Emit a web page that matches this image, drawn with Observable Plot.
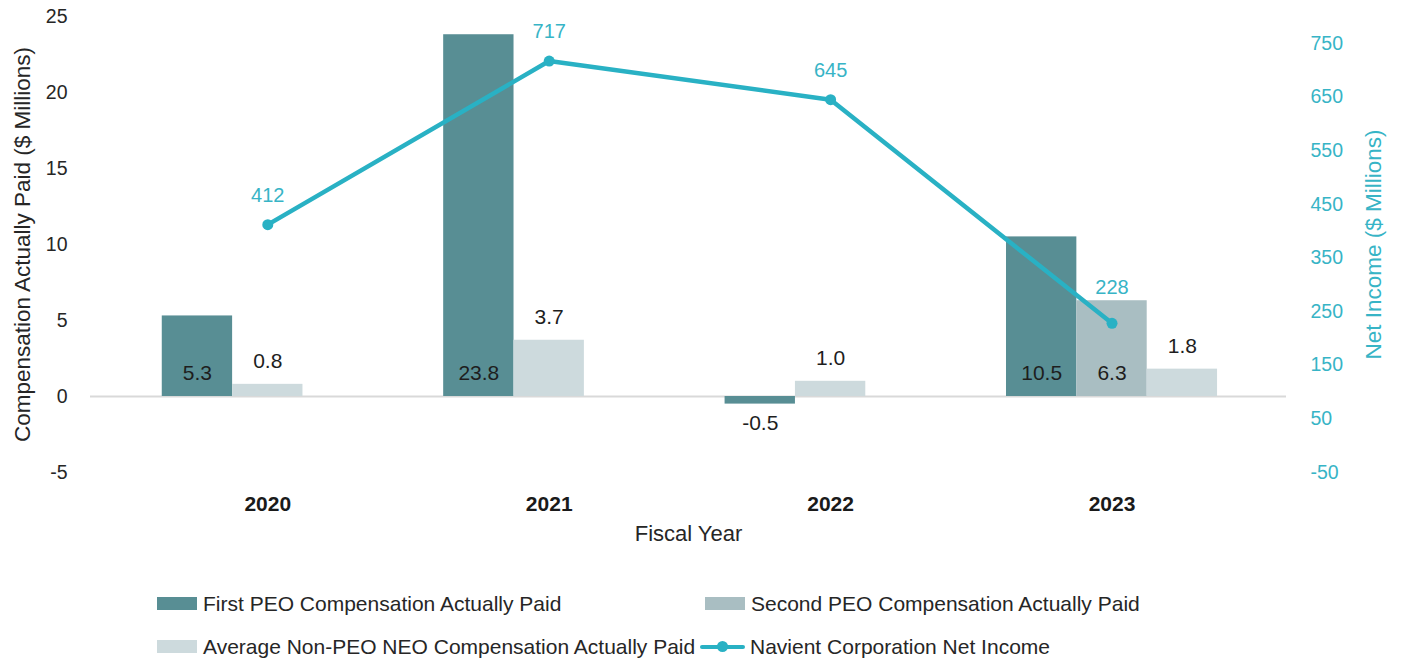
<!DOCTYPE html>
<html>
<head>
<meta charset="utf-8">
<script src="https://cdn.jsdelivr.net/npm/d3@7"></script>
<script src="https://cdn.jsdelivr.net/npm/@observablehq/plot@0.6"></script>
<style>
  html, body { margin: 0; padding: 0; background: #fff; }
  body { width: 1402px; height: 662px; overflow: hidden; font-family: "Liberation Sans", Arial, sans-serif; color: #262626; }
  #chart svg { display: block; }
  .legend { margin-top: 2px; padding-left: 157px; }
  .row { display: flex; height: 43px; align-items: center; }
  .item { display: flex; align-items: center; font-size: 21px; color: #262626; }
  .item.c1 { width: 548px; }
  .sw { width: 40px; height: 13px; margin-right: 6px; }
  .ln { position: relative; width: 45px; height: 13px; margin-left: -5px; margin-right: 5px; }
  .ln::before { content: ""; position: absolute; left: 0; right: 0; top: 5px; height: 4px; background: #29b1c4; border-radius: 2px; }
  .ln::after { content: ""; position: absolute; left: 17px; top: 1px; width: 11px; height: 11px; border-radius: 50%; background: #29b1c4; }
</style>
</head>
<body>
<div id="chart"></div>
<div class="legend" id="legend"></div>
<script>
// ---- data ----
const years = ["2020", "2021", "2022", "2023"];
const firstPEO = [5.3, 23.8, -0.5, 10.5];
const secondPEO = [null, null, null, 6.3];
const avgNEO = [0.8, 3.7, 1.0, 1.8];
const netIncome = [412, 717, 645, 228];
const leftTicks = [-5, 0, 5, 10, 15, 20, 25];
const rightTicks = [-50, 50, 150, 250, 350, 450, 550, 650, 750];
const seriesNames = [
  "First PEO Compensation Actually Paid",
  "Second PEO Compensation Actually Paid",
  "Average Non-PEO NEO Compensation Actually Paid",
  "Navient Corporation Net Income"
];
const colors = ["#588e94", "#a9bec2", "#cddadd", "#29b1c4"];

// ---- derived table ----
const leftDomain = [-5, 25];
const rightDomain = [-50, 800];
const toLeft = v => (v - rightDomain[0]) / (rightDomain[1] - rightDomain[0]) * (leftDomain[1] - leftDomain[0]) + leftDomain[0];
const fromLeft = t => Math.round((t - leftDomain[0]) / (leftDomain[1] - leftDomain[0]) * (rightDomain[1] - rightDomain[0]) + rightDomain[0]);

const slotW = 0.25;
const bars = [];
years.forEach((yr, i) => {
  const present = [];
  [[firstPEO, 0], [secondPEO, 1], [avgNEO, 2]].forEach(([arr, s]) => {
    if (arr[i] != null) present.push({ s, v: arr[i] });
  });
  present.forEach((p, k) => {
    const c = i + (k - 1) * slotW;
    bars.push({ i, year: yr, series: p.s, value: p.v, cx: c, x1: c - slotW / 2, x2: c + slotW / 2 });
  });
});
const line = years.map((yr, i) => ({ i, year: yr, v: netIncome[i], t: toLeft(netIncome[i]) }));

const fmt = v => v.toFixed(1);
const font = "'Liberation Sans', Arial, sans-serif";

const plot = Plot.plot({
  width: 1402,
  height: 580,
  marginLeft: 90,
  marginRight: 116,
  marginTop: 16,
  marginBottom: 108,
  x: { domain: [-0.63, 3.62] },
  y: { domain: leftDomain },
  style: { fontFamily: font, background: "#fff", overflow: "visible" },
  marks: [
    Plot.ruleY([0], { stroke: "#d9d9d9", strokeWidth: 2 }),
    Plot.rectY(bars, { x1: "x1", x2: "x2", y: "value", fill: d => colors[d.series] }),
    // labels for PEO bars (inside, at base)
    Plot.text(bars.filter(d => d.series < 2 && d.value >= 0), { x: "cx", y: 0, text: d => fmt(d.value), dy: -23, fontSize: 21, fill: "#1e1e1e" }),
    Plot.text(bars.filter(d => d.series < 2 && d.value < 0), { x: "cx", y: "value", text: d => fmt(d.value), dy: 19, fontSize: 21, fill: "#1e1e1e" }),
    // labels for avg bars (above)
    Plot.text(bars.filter(d => d.series === 2), { x: "cx", y: "value", text: d => fmt(d.value), dy: -23, fontSize: 21, fill: "#1e1e1e" }),
    // net income line
    Plot.line(line, { x: "i", y: "t", stroke: colors[3], strokeWidth: 4.5 }),
    Plot.dot(line, { x: "i", y: "t", r: 5.5, fill: colors[3] }),
    Plot.text(line.filter(d => d.i < 3), { x: "i", y: "t", text: d => String(d.v), dy: -29, fontSize: 20, fill: "#37b4c6" }),
    Plot.text(line.filter(d => d.i === 3), { x: "i", y: "t", text: d => String(d.v), dy: -36, fontSize: 20, fill: "#37b4c6" }),
    // axes
    Plot.axisX({ ticks: [0, 1, 2, 3], tickFormat: i => years[i], tickSize: 0, tickPadding: 24, fontSize: 21, fontWeight: "bold", color: "#1a1a1a", label: null }),
    Plot.axisY({ anchor: "left", ticks: leftTicks, tickFormat: d => String(d), tickSize: 0, tickPadding: 23, fontSize: 19.5, color: "#262626", label: null }),
    Plot.axisY({ anchor: "right", ticks: rightTicks.map(toLeft), tickFormat: t => String(fromLeft(t)), tickSize: 0, tickPadding: 24, fontSize: 19.5, color: "#37b4c6", textAnchor: "start", label: null }),
    // axis titles
    Plot.text(["Fiscal Year"], { frameAnchor: "bottom", dy: 68, fontSize: 22, fill: "#262626" }),
    Plot.text(["Compensation Actually Paid ($ Millions)"], { frameAnchor: "left", textAnchor: "middle", dx: -68, rotate: -90, fontSize: 22.5, fill: "#262626" }),
    Plot.text(["Net Income ($ Millions)"], { frameAnchor: "right", textAnchor: "middle", dx: 87, rotate: -90, fontSize: 22.5, fill: "#37b4c6" })
  ]
});
document.getElementById("chart").appendChild(plot);

// legend
const lg = document.getElementById("legend");
const rows = [[0, 1], [2, 3]];
rows.forEach(r => {
  const row = document.createElement("div");
  row.className = "row";
  r.forEach((s, j) => {
    const it = document.createElement("div");
    it.className = "item" + (j === 0 ? " c1" : "");
    const sw = document.createElement("span");
    if (s === 3) { sw.className = "ln"; }
    else { sw.className = "sw"; sw.style.background = colors[s]; }
    it.appendChild(sw);
    const tx = document.createElement("span");
    tx.textContent = seriesNames[s];
    it.appendChild(tx);
    row.appendChild(it);
  });
  lg.appendChild(row);
});
</script>
</body>
</html>
